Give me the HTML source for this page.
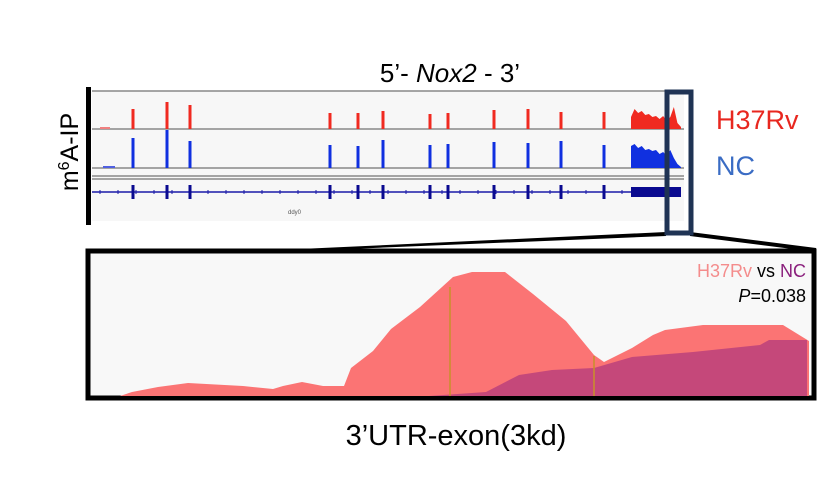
<!DOCTYPE html>
<html><head><meta charset="utf-8"><style>
body{margin:0;background:#fff;}
svg{display:block;font-family:"Liberation Sans",Arial,sans-serif;}
</style></head><body>
<svg id="fig" width="827" height="477" viewBox="0 0 827 477">
<text x="450" y="82" text-anchor="middle" font-size="26">5’- <tspan font-style="italic">Nox2</tspan> - 3’</text>
<text transform="translate(78,152) rotate(-90)" text-anchor="middle" font-size="25">m<tspan font-size="16" dy="-9">6</tspan><tspan dy="9">A-IP</tspan></text>
<rect x="86" y="87" width="5" height="138" fill="#000"/>
<rect x="92" y="91" width="592" height="130" fill="#f7f7f7"/>
<g id="browser"></g>
<text x="288" y="214" font-size="6" fill="#555">ddy0</text>
<text x="716" y="129" font-size="27" fill="#e8271f">H37Rv</text>
<text x="716" y="175" font-size="27" fill="#3a6cc4">NC</text>
<polygon points="300,249 666,232 666,236 300,251" fill="#000"/>
<polygon points="690,232 816,248 816,252 690,236" fill="#000"/>
<rect x="667" y="92" width="24" height="141" fill="none" stroke="#1f3354" stroke-width="5"/>
<rect x="88" y="251" width="726" height="147" fill="#f8f8f8" stroke="#000" stroke-width="5"/>
<g id="zoom"></g>
<text x="806" y="277" text-anchor="end" font-size="18"><tspan fill="#f48c8c">H37Rv</tspan> vs <tspan fill="#8a1f7c">NC</tspan></text>
<text x="806" y="302" text-anchor="end" font-size="18"><tspan font-style="italic">P</tspan>=0.038</text>
<text x="456" y="445" text-anchor="middle" font-size="29">3’UTR-exon(3kd)</text>
</svg>
<script>
const NS="http://www.w3.org/2000/svg";
const exonPos=[133,167,190,330,358,383,430,448,494,528,561,604];
const redHeights=[20,27,24,16,16,18,15,16,19,20,17,17];
const blueHeights=[30,38,27,23,22,28,23,24,26,25,27,23];
const utrRed=[12,20,16,18,14,15,12,13,10,13,8,12,22,6,2];
const utrBlue=[22,24,20,22,18,19,17,18,14,16,12,18,10,4,1];
const zx=[120,132,158,188,243,273,283,302,323,344,351,373,391,420,453,472,505,533,566,594,604,632,653,665,703,783,809];
const zRed=[0,4,9,13,10,7,10,14,10,10,28,45,67,89,119,124,124,102,75,41,34,48,61,66,71,71,55];
const nx=[429,486,519,552,594,632,693,760,769,807];
const nBlue=[0,4,21,26,28,39,44,51,56,56];
function add(parent,tag,attrs,name){const e=document.createElementNS(NS,tag);for(const k in attrs)e.setAttribute(k,attrs[k]);


parent.appendChild(e);return e;}
const b=document.getElementById('browser');
const redBase=129, blueBase=168, geneY=192;
[91,129,168,176,179].forEach(y=>add(b,'line',{x1:92,x2:684,y1:y,y2:y,stroke:'#888','stroke-width':1.5},'track-divider'));
add(b,'line',{x1:92,x2:680,y1:geneY,y2:geneY,stroke:'#1a1aa8','stroke-width':1.5},'intron-line');
for(let x=100;x<630;x+=18)add(b,'line',{x1:x,x2:x,y1:geneY-2,y2:geneY+2,stroke:'#1a1aa8','stroke-width':1},'intron-tick');
exonPos.forEach((x,i)=>{
 add(b,'rect',{x:x-1.5,y:redBase-redHeights[i],width:3,height:redHeights[i],fill:'#f02a20'},'h37rv-peak');
 add(b,'rect',{x:x-1.5,y:blueBase-blueHeights[i],width:3,height:blueHeights[i],fill:'#1030e0'},'nc-peak');
 add(b,'rect',{x:x-1.5,y:geneY-7,width:3,height:14,fill:'#0a0a90'},'exon');
});
add(b,'rect',{x:100,y:redBase-2,width:10,height:2,fill:'#f08080'},'h37rv-low-signal');
add(b,'rect',{x:103,y:blueBase-2,width:12,height:2,fill:'#5060e0'},'nc-low-signal');
function blockPath(vals,base,x0,x1){const step=(x1-x0)/(vals.length-1);let d=`M${x0},${base}`;vals.forEach((v,i)=>d+=` L${x0+i*step},${base-v}`);return d+` L${x1},${base} Z`;}
add(b,'path',{d:blockPath(utrRed,redBase,631,681),fill:'#f02a20'},'h37rv-utr-coverage');
add(b,'path',{d:blockPath(utrBlue,blueBase,631,681),fill:'#1030e0'},'nc-utr-coverage');
add(b,'rect',{x:631,y:geneY-5,width:50,height:10,fill:'#0a0a90'},'utr-exon');
const z=document.getElementById('zoom');const zb=396;
function areaPath(xs,vs){let d=`M${xs[0]},${zb}`;xs.forEach((x,i)=>{d+=` L${x},${zb-vs[i]}`;});return d+` L${xs[xs.length-1]},${zb} Z`;}
add(z,'path',{d:areaPath(zx,zRed),fill:'#fb7474'},'h37rv-coverage');
add(z,'path',{d:areaPath(nx,nBlue),fill:'#c5487a'},'nc-coverage');
add(z,'line',{x1:450,x2:450,y1:287,y2:396,stroke:'#c8902a','stroke-width':1.5},'marker-line');
add(z,'line',{x1:594,x2:594,y1:356,y2:396,stroke:'#c8902a','stroke-width':1.5},'marker-line');
</script>
</body></html>
